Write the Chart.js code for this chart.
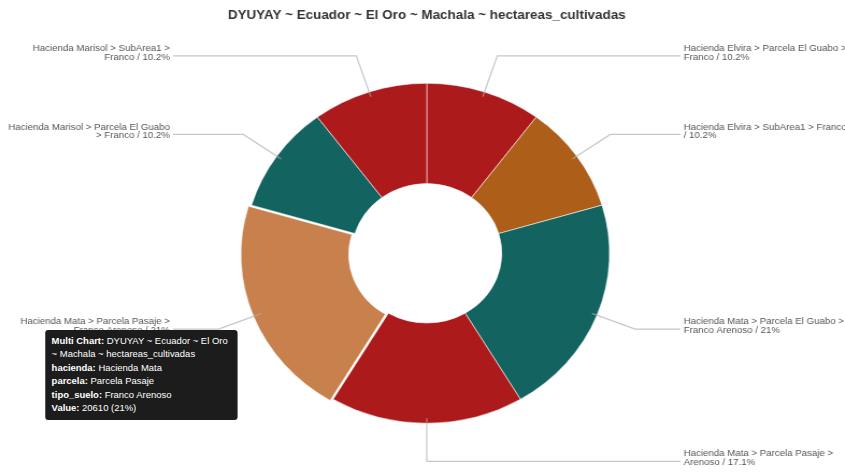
<!DOCTYPE html>
<html>
<head>
<meta charset="utf-8">
<script src="https://cdn.jsdelivr.net/npm/chart.js@4.4.1/dist/chart.umd.min.js"></script>
<style>
  html, body { margin: 0; padding: 0; background: #fff; overflow: hidden; }
  #wrap { position: relative; width: 786px; height: 474px; transform: scaleX(1.075); transform-origin: 0 0; }
  #chart { display: block; }
  #tip {
    position: absolute; left: 42px; top: 330px; width: 168px;
    padding: 5px 5px 5px 6px; background: #1c1c1c; color: #fff; border-radius: 3px;
    font: 8.8px "Liberation Sans", Arial, sans-serif; line-height: 13.4px; display: none;
  }
  #tip b { font-weight: bold; }
</style>
</head>
<body>
<div id="wrap">
  <canvas id="chart" width="786" height="474"></canvas>
  <div id="tip"></div>
</div>
<script>
// Cultivated hectares per hacienda / parcela / soil type
const chartTitle = 'DYUYAY ~ Ecuador ~ El Oro ~ Machala ~ hectareas_cultivadas';
const haciendas = ['Hacienda Elvira', 'Hacienda Elvira', 'Hacienda Mata', 'Hacienda Mata', 'Hacienda Mata', 'Hacienda Marisol', 'Hacienda Marisol'];
const parcelas = ['Parcela El Guabo', 'SubArea1', 'Parcela El Guabo', 'Parcela Pasaje', 'Parcela Pasaje', 'Parcela El Guabo', 'SubArea1'];
const suelos = ['Franco', 'Franco', 'Franco Arenoso', 'Arenoso', 'Franco Arenoso', 'Franco', 'Franco'];
const hectareas = [10020, 10020, 20610, 16800, 20610, 10020, 10020];
const sliceColors = ['#ad1a1c', '#ad5e18', '#136361', '#ad1a1c', '#c8804d', '#136361', '#ad1a1c'];
const highlightedIndex = 4;

const total = hectareas.reduce((a, b) => a + b, 0);
const pct = v => String(Math.round(v / total * 1000) / 10);
const labels = haciendas.map((h, i) => `${h} > ${parcelas[i]} > ${suelos[i]}`);

function wrapText(ctx, text, maxW) {
  const words = text.split(' ');
  const lines = [];
  let cur = '';
  words.forEach(w => {
    const test = cur ? cur + ' ' + w : w;
    if (cur && ctx.measureText(test).width > maxW) { lines.push(cur); cur = w; }
    else cur = test;
  });
  if (cur) lines.push(cur);
  return lines;
}

// Leader lines and outside labels for each slice
const outsideLabels = {
  id: 'outsideLabels',
  afterDatasetsDraw(chart) {
    const ctx = chart.ctx;
    const meta = chart.getDatasetMeta(0);
    ctx.save();
    ctx.font = '9px "Liberation Sans", Arial, sans-serif';
    meta.data.forEach((arc, i) => {
      const p = arc.getProps(['x', 'y', 'startAngle', 'endAngle', 'outerRadius'], true);
      const mid = (p.startAngle + p.endAngle) / 2;
      const c = Math.cos(mid), s = Math.sin(mid);
      const x0 = p.x + c * (p.outerRadius - 5), y0 = p.y + s * (p.outerRadius - 5);
      const x1 = p.x + c * (p.outerRadius + 38), y1 = p.y + s * (p.outerRadius + 38);
      const right = c >= -0.1;
      const x2 = right ? p.x + p.outerRadius + 66 : p.x - p.outerRadius - 66;
      ctx.strokeStyle = 'rgba(175,175,175,0.7)';
      ctx.lineWidth = 1.2;
      ctx.beginPath();
      ctx.moveTo(x0, y0);
      ctx.lineTo(x1, y1);
      ctx.lineTo(x2, y1);
      ctx.stroke();

      const text = `${labels[i]} / ${pct(hectareas[i])}%`;
      const lines = wrapText(ctx, text, 152);
      const lh = 8.6;
      ctx.fillStyle = '#555';
      ctx.textBaseline = 'middle';
      ctx.textAlign = right ? 'left' : 'right';
      const tx = right ? x2 + 3 : x2 - 3;
      const startY = y1 - 3 - (lines.length - 1) * lh / 2;
      lines.forEach((ln, k) => ctx.fillText(ln, tx, startY + k * lh));
    });
    ctx.restore();
  }
};

function renderTip({ tooltip }) {
  const el = document.getElementById('tip');
  if (!tooltip || tooltip.opacity === 0 || !tooltip.dataPoints || !tooltip.dataPoints.length) {
    el.style.display = 'none';
    return;
  }
  const dp = tooltip.dataPoints[0];
  const i = dp.dataIndex;
  el.innerHTML =
    `<b>Multi Chart:</b> ${chartTitle}<br>` +
    `<b>hacienda:</b> ${haciendas[i]}<br>` +
    `<b>parcela:</b> ${parcelas[i]}<br>` +
    `<b>tipo_suelo:</b> ${suelos[i]}<br>` +
    `<b>Value:</b> ${dp.raw} (${pct(dp.raw)}%)`;
  el.style.display = 'block';
}

const chart = new Chart(document.getElementById('chart'), {
  type: 'doughnut',
  data: {
    labels: labels,
    datasets: [{
      data: hectareas,
      backgroundColor: sliceColors,
      hoverBackgroundColor: sliceColors,
      borderColor: 'rgba(255,255,255,0.55)',
      hoverBorderColor: 'rgba(255,255,255,0.55)',
      borderWidth: 1,
      hoverOffset: 12,
      radius: 170,
      cutout: '41%'
    }]
  },
  options: {
    responsive: false,
    animation: false,
    events: [],
    layout: { padding: { left: 8, right: 0, top: 0, bottom: 0.4 } },
    plugins: {
      legend: { display: false },
      title: {
        display: true,
        text: chartTitle,
        color: '#333',
        font: { family: '"Liberation Sans", Arial, sans-serif', size: 12.5, weight: 'bold' },
        padding: { top: 8, bottom: 10 }
      },
      tooltip: { enabled: false, external: renderTip }
    }
  },
  plugins: [outsideLabels]
});

const active = [{ datasetIndex: 0, index: highlightedIndex }];
chart.setActiveElements(active);
chart.update();
chart.tooltip.setActiveElements(active, { x: 221, y: 330 });
chart.draw();
</script>
</body>
</html>
